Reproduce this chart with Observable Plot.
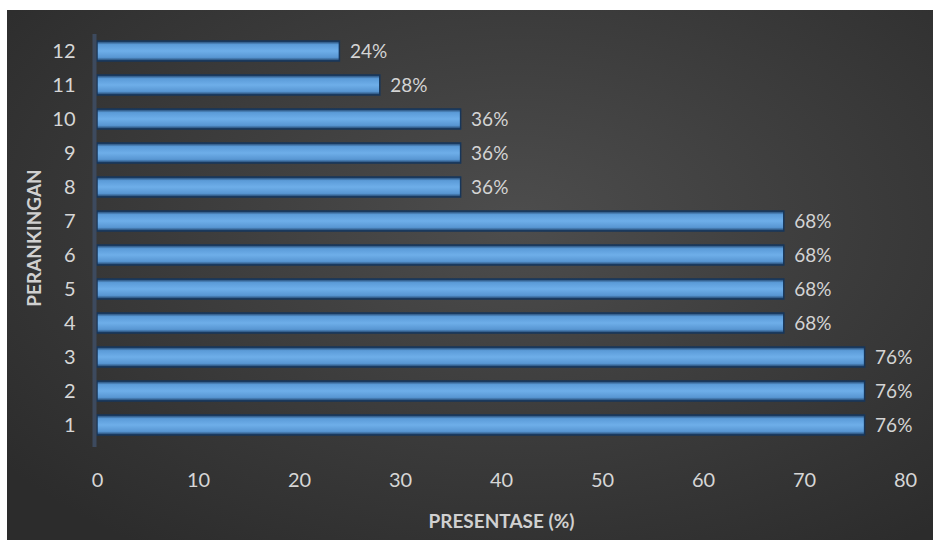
<!DOCTYPE html>
<html>
<head>
<meta charset="utf-8">
<script src="https://cdn.jsdelivr.net/npm/d3@7"></script>
<script src="https://cdn.jsdelivr.net/npm/@observablehq/plot@0.6"></script>
<style>
  html, body { margin: 0; padding: 0; background: #ffffff; }
  #wrap {
    position: absolute; left: 7px; top: 10px; width: 926px; height: 530px;
    background: radial-gradient(ellipse 70% 75% at 55% 40%, #4d4d4d 0%, #3e3e3e 45%, #2c2c2c 100%);
    font-family: Lato, "Open Sans", sans-serif;
  }
</style>
</head>
<body>
<div id="wrap"></div>
<script>
const ranks = ["1","2","3","4","5","6","7","8","9","10","11","12"];
const values = [76, 76, 76, 68, 68, 68, 68, 36, 36, 36, 28, 24];
const xTicks = [0, 10, 20, 30, 40, 50, 60, 70, 80];

const data = ranks.map((r, i) => ({rank: r, value: values[i], label: values[i] + "%"}));

const chart = Plot.plot({
  width: 926,
  height: 530,
  marginLeft: 90,
  marginRight: 28,
  marginTop: 16,
  marginBottom: 91,
  style: {background: "transparent", color: "#d8d8d8", fontFamily: "Lato, 'Open Sans', sans-serif", fontSize: "20px"},
  x: {domain: [0, 80], ticks: xTicks, tickSize: 0, tickPadding: 23, label: "PRESENTASE (%)", labelAnchor: "center", labelOffset: 78, labelArrow: "none"},
  y: {domain: ranks.slice().reverse(), padding: 0.42, tickSize: 0, tickPadding: 22, label: "PERANKINGAN", labelAnchor: "center", labelOffset: 70, labelArrow: "none"},
  marks: [
    Plot.barX(data, {x: "value", y: "rank", fill: "url(#barGrad)", stroke: "#17365a", strokeWidth: 1.5}),
    Plot.ruleX([0], {stroke: "#3d4a5e", strokeWidth: 4, dx: -3, insetTop: 8, insetBottom: 2}),
    Plot.text(data, {x: "value", y: "rank", text: "label", textAnchor: "start", dx: 10, fill: "#d4d4d4", fontSize: 19})
  ]
});

const svg = d3.select(chart);
const defs = svg.insert("defs", ":first-child");
const g = defs.append("linearGradient").attr("id", "barGrad").attr("x1", 0).attr("y1", 0).attr("x2", 0).attr("y2", 1);
[["0%", "#1c3b60"], ["18%", "#5b9bd8"], ["50%", "#6eaee9"], ["82%", "#5896d2"], ["100%", "#1c3b60"]]
  .forEach(([o, c]) => g.append("stop").attr("offset", o).attr("stop-color", c));

svg.selectAll("[aria-label='x-axis label'] text, [aria-label='y-axis label'] text")
  .attr("font-weight", "bold").attr("font-size", "19px").attr("fill", "#d0d0d0");
svg.selectAll("[aria-label='x-axis tick label'] text, [aria-label='y-axis tick label'] text")
  .attr("fill", "#d6d6d6");

document.getElementById("wrap").appendChild(chart);
</script>
</body>
</html>
